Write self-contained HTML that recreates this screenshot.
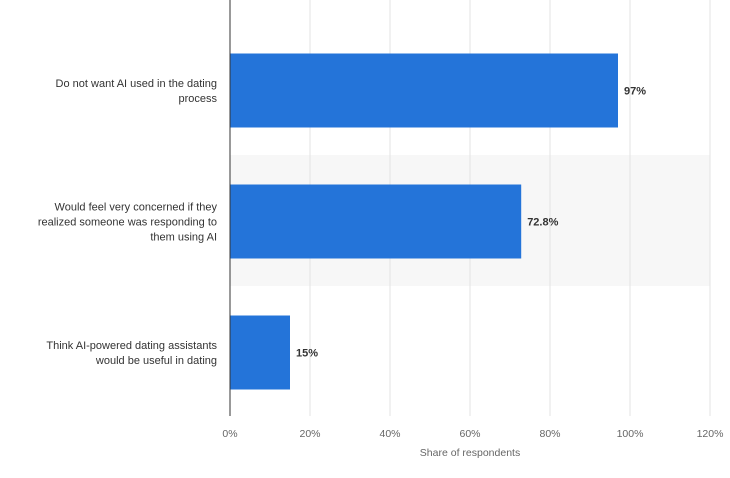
<!DOCTYPE html>
<html><head><meta charset="utf-8"><style>
body{margin:0;background:#fff;font-family:"Liberation Sans",sans-serif}
svg text{font-family:"Liberation Sans",sans-serif}
</style></head><body>
<svg width="730" height="473" xmlns="http://www.w3.org/2000/svg">
<rect x="0" y="0" width="730" height="473" fill="#fff"/>
<g id="band"></g><g id="grid"></g><g id="bars"></g><g id="labels"></g><g id="ticks"></g>
<line x1="230" y1="0" x2="230" y2="416" stroke="#333" stroke-width="1"/>
<text x="470" y="456" text-anchor="middle" font-size="10.5" fill="#666">Share of respondents</text>
</svg>
<script>
const categories = [["Do not want AI used in the dating","process"],["Would feel very concerned if they","realized someone was responding to","them using AI"],["Think AI-powered dating assistants","would be useful in dating"]];
const values = [97, 72.8, 15];
const valueLabels = ["97%","72.8%","15%"];
const tickValues = [0,20,40,60,80,100,120];
const tickLabels = ["0%","20%","40%","60%","80%","100%","120%"];
const NS="http://www.w3.org/2000/svg";
const x0=230, xw=480, xmax=120, topY=23, rowH=131, barH=74;
const xs=v=>x0+v/xmax*xw;
const rowY=i=>topY+i*rowH;
function mk(tag,attrs,parent){const e=document.createElementNS(NS,tag);for(const k in attrs)e.setAttribute(k,attrs[k]);document.getElementById(parent).appendChild(e);return e;}
categories.forEach((c,i)=>{ if(i%2===1){const b=mk('rect',{x:x0,y:rowY(i)+1,width:xw,height:rowH,fill:'#f7f7f7'},'band');

}});
tickValues.forEach((t,i)=>{
 if(t>0){const g=mk('line',{x1:xs(t),x2:xs(t),y1:0,y2:416,stroke:'#e3e3e3','stroke-width':1},'grid');
 
 }
 const tl=mk('text',{x:xs(t),y:437,'text-anchor':'middle','font-size':10.5,fill:'#666'},'ticks');tl.textContent=tickLabels[i];
 
 
});
values.forEach((v,i)=>{
 const cy=rowY(i)+rowH/2+2;
 const r=mk('rect',{x:x0,y:cy-barH/2,width:xs(v)-x0,height:barH,fill:'#2474d9'},'bars');
 
 
 const t=mk('text',{x:xs(v)+6,y:cy+4,'font-size':11,'font-weight':'bold',fill:'#333'},'labels');t.textContent=valueLabels[i];
 
 
 const lines=categories[i];const lh=15;const start=cy-(lines.length-1)*lh/2+4;
 lines.forEach((ln,j)=>{const ct=mk('text',{x:217,y:start+j*lh,'text-anchor':'end','font-size':11,fill:'#333'},'labels');ct.textContent=ln;
 
 });
});
</script>
</body></html>
